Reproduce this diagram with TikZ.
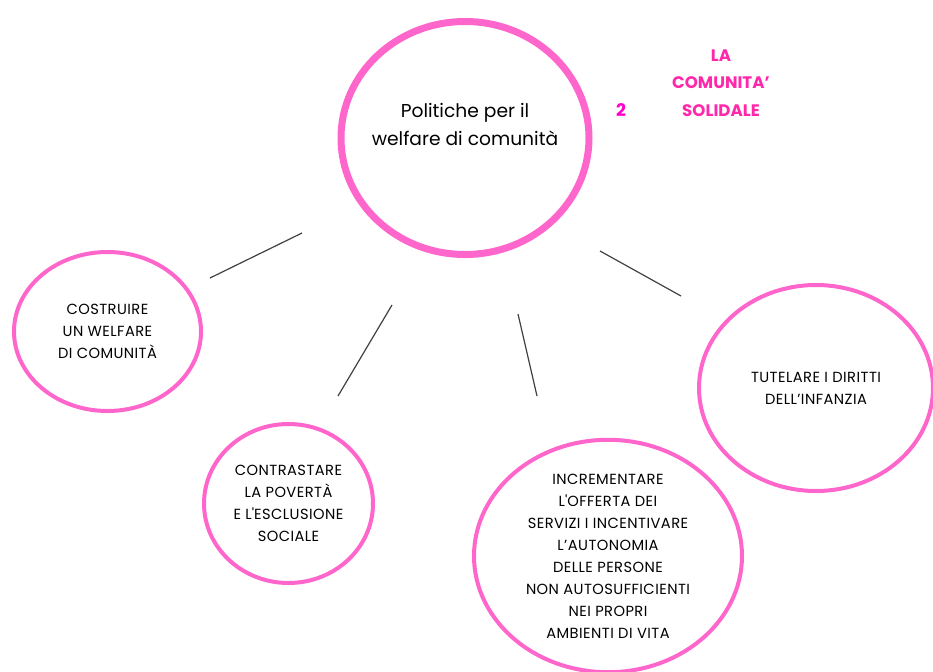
\documentclass[tikz,border=0pt]{standalone}
\usepackage{fontspec}
\setmainfont{Poppins}
\newfontfamily\maiuscolo[LetterSpace=3]{Poppins}
\usetikzlibrary{shapes.geometric}
\definecolor{rosa}{RGB}{255,102,204}
\definecolor{rosatitolo}{RGB}{255,40,170}
\definecolor{magentanum}{RGB}{255,0,204}

\begin{document}
\begin{tikzpicture}[x=0.75pt,y=-0.75pt,
		bolla/.style={ellipse, draw=rosa, line width=3pt, inner sep=0pt, align=center, font=\maiuscolo\fontsize{11}{16.5}\selectfont},
		ramo/.style={color=black!75, line width=0.9pt}]
			\useasboundingbox (0,0) rectangle (933,672);
			\node[bolla, line width=5.25pt, minimum width=186pt, minimum height=174.75pt] (pol) at (465,138) {};
			\node[align=center, font=\fontsize{14}{21}\selectfont] (poltesto) at (465,124) {Politiche per il\\welfare di comunità};
			\node[bolla, minimum width=140.25pt, minimum height=119.25pt] (cos) at (107.5,331.5) {COSTRUIRE\\UN WELFARE\\DI COMUNITÀ};
			\node[bolla, minimum width=126.75pt, minimum height=119.25pt] (con) at (288.5,503.5) {CONTRASTARE\\LA POVERTÀ\\E L\textquotesingle ESCLUSIONE\\SOCIALE};
			\node[bolla, minimum width=201pt, minimum height=168pt] (inc) at (608,556) {INCREMENTARE\\L\textquotesingle OFFERTA DEI\\SERVIZI I INCENTIVARE\\L’AUTONOMIA\\DELLE PERSONE\\NON AUTOSUFFICIENTI\\NEI PROPRI\\AMBIENTI DI VITA};
			\node[bolla, minimum width=175.5pt, minimum height=154.5pt] (tut) at (816,388) {TUTELARE I DIRITTI\\DELL’INFANZIA};
			\node[font=\fontsize{13}{15}\selectfont\bfseries, text=magentanum] (num) at (621,110) {2};
			\node[align=center, font=\fontsize{12.5}{20.5}\selectfont\bfseries, text=rosatitolo] (titolo) at (721,83) {LA\\COMUNITA’\\SOLIDALE};
			\coordinate (r1a) at (302,233);
			\coordinate (r1b) at (210,278);
			\coordinate (r2a) at (392,305);
			\coordinate (r2b) at (338,396);
			\coordinate (r3a) at (518,314);
			\coordinate (r3b) at (537,396);
			\coordinate (r4a) at (600,251);
			\coordinate (r4b) at (681,296);
			\draw[ramo] (r1a)--(r1b);
			\draw[ramo] (r2a)--(r2b);
			\draw[ramo] (r3a)--(r3b);
			\draw[ramo] (r4a)--(r4b);
		\end{tikzpicture}
\end{document}
